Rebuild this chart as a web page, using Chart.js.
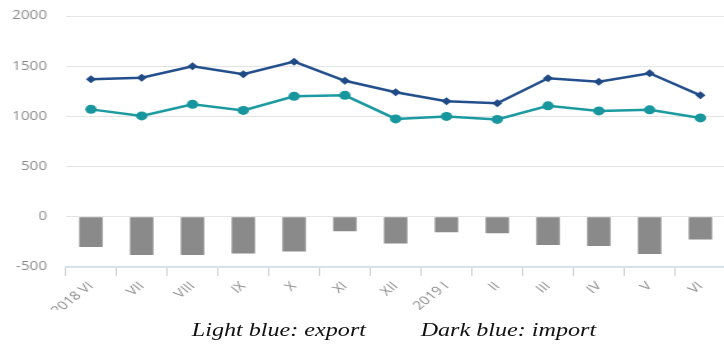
<!DOCTYPE html>
<html>
<head>
<meta charset="utf-8">
<script src="https://cdn.jsdelivr.net/npm/chart.js@4/dist/chart.umd.min.js"></script>
<style>
  html, body { margin: 0; padding: 0; background: #ffffff; overflow: hidden; width: 724px; height: 349px; }
  #wrap { position: relative; width: 576px; height: 349px; transform: scaleX(1.27); transform-origin: 0 0; }
  #chart { position: absolute; left: 0; top: 0; }
  #caption {
    position: absolute; left: 151px; top: 320px;
    font-family: "Liberation Serif", "Times New Roman", serif;
    font-style: italic; font-size: 19px; line-height: 19px; color: #111111;
    white-space: nowrap;
  }
  #caption span + span { margin-left: 43px; }
</style>
</head>
<body>
<div id="wrap">
  <canvas id="chart" width="576" height="310"></canvas>
  <div id="caption"><span>Light blue: export</span><span>Dark blue: import</span></div>
</div>
<script>
// Monthly trade, June 2018 – June 2019
const months = ["2018 VI", "VII", "VIII", "IX", "X", "XI", "XII", "2019 I", "II", "III", "IV", "V", "VI"];
const importValues = [1370, 1385, 1500, 1420, 1545, 1355, 1240, 1150, 1130, 1380, 1345, 1430, 1210];
const exportValues = [1070, 1005, 1120, 1060, 1200, 1210, 975, 1000, 970, 1105, 1055, 1065, 985];
const balanceValues = [-300, -380, -380, -365, -345, -145, -265, -155, -165, -280, -290, -370, -225];
const yTicks = [-500, 0, 500, 1000, 1500, 2000];

const tickColor = "#8c8c8c";
const tickFont = "'Open Sans', sans-serif";

new Chart(document.getElementById("chart"), {
  type: "bar",
  data: {
    labels: months,
    datasets: [
      {
        type: "line",
        label: "Import",
        data: importValues,
        borderColor: "#234f8c",
        backgroundColor: "#234f8c",
        borderWidth: 2.5,
        pointStyle: "rectRot",
        pointRadius: 4,
        pointBackgroundColor: "#1f4a86",
        pointBorderWidth: 0,
        tension: 0,
        order: 0
      },
      {
        type: "line",
        label: "Export",
        data: exportValues,
        borderColor: "#1b9aa0",
        backgroundColor: "#1b9aa0",
        borderWidth: 2.5,
        pointStyle: "circle",
        pointRadius: 4.5,
        pointBackgroundColor: "#17979d",
        pointBorderWidth: 0,
        tension: 0,
        order: 0
      },
      {
        type: "bar",
        label: "Balance",
        data: balanceValues,
        backgroundColor: "#8a8a8a",
        borderWidth: 0,
        barPercentage: 0.46,
        categoryPercentage: 1,
        order: 1
      }
    ]
  },
  options: {
    responsive: false,
    animation: false,
    devicePixelRatio: 1,
    layout: { padding: { top: 16, right: 1.5, bottom: 0, left: 0 } },
    plugins: {
      legend: { display: false },
      tooltip: { enabled: false },
      title: { display: false }
    },
    scales: {
      x: {
        offset: true,
        grid: {
          offset: true,
          drawOnChartArea: false,
          drawTicks: true,
          tickLength: 9,
          color: "#cfcfcf",
          lineWidth: 1
        },
        border: { display: true, color: "#d2e0ee", width: 1.5 },
        ticks: {
          color: tickColor,
          font: { family: tickFont, size: 12 },
          minRotation: 45,
          maxRotation: 45,
          autoSkip: false,
          padding: 3
        },
        afterFit: (scale) => { scale.height = 43; }
      },
      y: {
        min: -500,
        max: 2000,
        afterBuildTicks: (scale) => { scale.ticks = yTicks.map(v => ({ value: v })); },
        grid: {
          drawTicks: false,
          color: "#e4e4e4",
          lineWidth: 1
        },
        border: { display: false },
        ticks: {
          color: tickColor,
          font: { family: tickFont, size: 12 },
          padding: 14.6,
          callback: (v) => String(v)
        },
        afterFit: (scale) => {
          scale.width = 51.6;
          scale.paddingTop = 8;
          scale.paddingBottom = 8;
        }
      }
    }
  }
});
</script>
</body>
</html>
